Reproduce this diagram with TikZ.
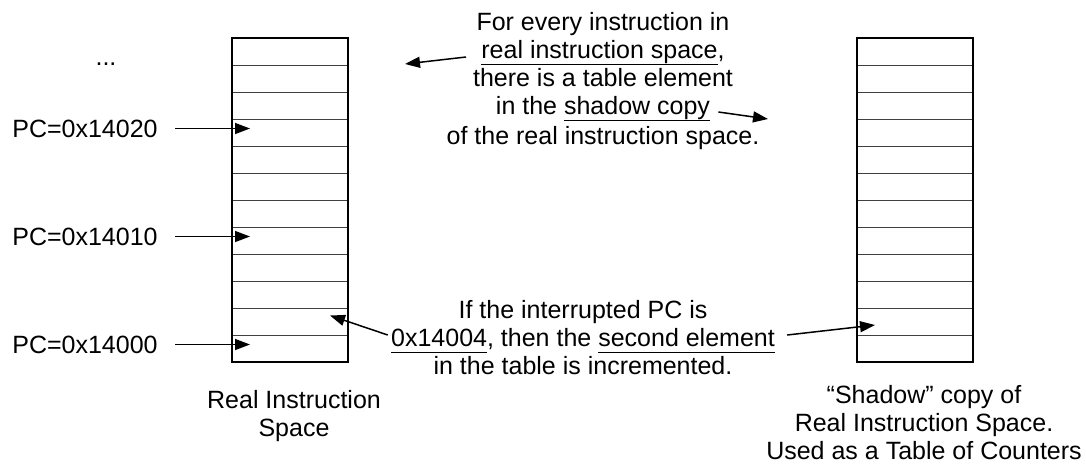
\documentclass[tikz,border=0pt]{standalone}
\usepackage{fontspec}
\setmainfont{Liberation Sans}
\usepackage{tikz}
\usetikzlibrary{positioning, arrows.meta, calc}

\newcommand{\ulined}[1]{\setbox0\hbox{#1}\leavevmode
  \rlap{\raisebox{-3.6pt}{\rule{\wd0}{0.65pt}}}\box0}

\tikzset{
  cell/.style={draw=black!75, line width=0.5pt, minimum width=58pt,
               minimum height=13.5pt, inner sep=0pt, outer sep=0pt},
  frame/.style={line width=1.4pt},
  ptr/.style={-{Triangle[length=7.5pt, width=5.5pt]}, line width=0.75pt},
  txt/.style={inner sep=0pt, anchor=base},
  pclabel/.style={inner sep=0pt},
}

\begin{document}
\begin{tikzpicture}[x=0.5pt, y=-0.5pt, font=\fontsize{12.5}{14}\selectfont]
        \useasboundingbox (0,0) rectangle (1086,467);

        \foreach \i in {1,...,12} {
          \node[cell] (real-\i) at (290, {38+27*(\i-0.5)}) {};
          \node[cell] (shadow-\i) at (915, {38+27*(\i-0.5)}) {};
        }
        \draw[frame] (real-1.north west) rectangle (real-12.south east);
        \draw[frame] (shadow-1.north west) rectangle (shadow-12.south east);

        \node[txt] (dots) at (106,65) {...};
        \coordinate (in20) at ($(real-4.west)+(18,-4)$);
        \coordinate (in10) at ($(real-8.west)+(18,-4)$);
        \coordinate (in00) at ($(real-12.west)+(18,-4)$);
        \node[pclabel, left=46pt of in20] (pc20) {PC=0x14020};
        \node[pclabel, left=46pt of in10] (pc10) {PC=0x14010};
        \node[pclabel, left=46pt of in00] (pc00) {PC=0x14000};
        \draw[ptr, shorten <=8.5pt] (pc20) -- (in20);
        \draw[ptr, shorten <=8.5pt] (pc10) -- (in10);
        \draw[ptr, shorten <=8.5pt] (pc00) -- (in00);

        \node[txt] (top-1) at (603,30) {For every instruction in};
        \node[txt] (top-2) at (603,58) {\ulined{real instruction space},};
        \node[txt] (top-3) at (603,86) {there is a table element};
        \node[txt] (top-4) at (603,114) {in the \ulined{shadow copy}};
        \node[txt] (top-5) at (603,144) {of the real instruction space.};
        \coordinate (toreal) at (405,64);
        \coordinate (toshadow) at (768,119);
        \draw[ptr] ([shift={(-15,-1)}]top-2.base west) -- (toreal);
        \draw[ptr] ([shift={(8,-2)}]top-4.base east) -- (toshadow);

        \node[txt] (hit-1) at (583,318) {If the interrupted PC is};
        \node[txt] (hit-2) at (583,346)
              {\ulined{0x14004}, then the \ulined{second element}};
        \node[txt] (hit-3) at (583,374) {in the table is incremented.};
        \coordinate (hitreal) at ($(real-11.east)+(-18,-6)$);
        \coordinate (hitshadow) at ($(shadow-11.west)+(18,3.5)$);
        \draw[ptr] ([shift={(-3,-11)}]hit-2.base west) -- (hitreal);
        \draw[ptr] ([shift={(12,-11)}]hit-2.base east) -- (hitshadow);

        \node[inner sep=0pt, align=center, below=14pt of real-12, xshift=2pt] (real-name)
              {Real Instruction\\Space};
        \node[inner sep=0pt, align=center, below=11.5pt of shadow-12, xshift=4.5pt]
              (shadow-name) {``Shadow'' copy of\\Real Instruction Space.\\Used as a Table of Counters};
      \end{tikzpicture}
\end{document}
